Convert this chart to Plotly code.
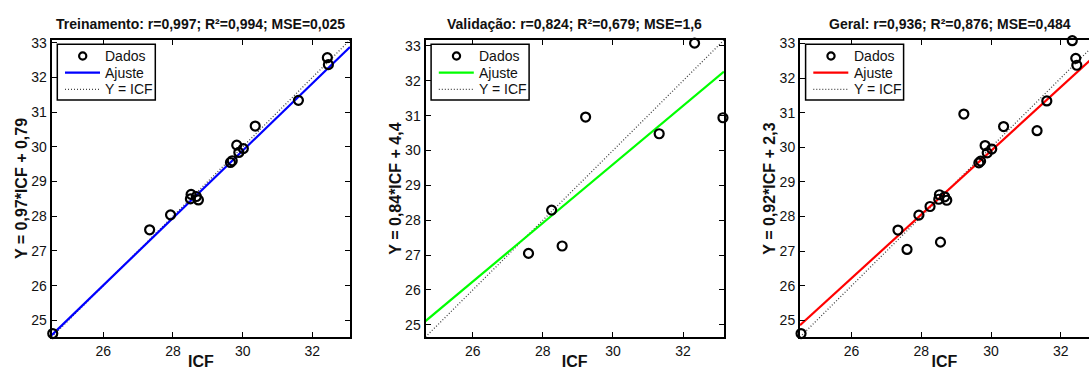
import plotly.graph_objects as go

# ---------------- data ----------------
train_icf = [24.55, 27.33, 27.93, 28.52, 28.50, 28.67, 28.73, 29.65, 29.70,
             29.83, 29.89, 30.02, 30.36, 31.60, 32.43, 32.46]
train_y = [24.62, 27.61, 28.04, 28.63, 28.50, 28.57, 28.47, 29.55, 29.60,
           30.05, 29.84, 29.95, 30.60, 31.34, 32.57, 32.37]

val_icf = [27.59, 28.25, 28.55, 29.22, 31.32, 32.33, 33.14]
val_y = [27.05, 28.29, 27.26, 30.96, 30.48, 33.08, 30.94]

all_icf = train_icf + val_icf
all_y = train_y + val_y

panel_names = ["Treinamento", "Validação", "Geral"]
r_vals = ["0,997", "0,824", "0,936"]
r2_vals = ["0,994", "0,679", "0,876"]
mse_vals = ["0,025", "1,6", "0,484"]
slopes = [0.97, 0.84, 0.92]
intercepts = [0.79, 4.4, 2.3]
slope_txt = ["0,97", "0,84", "0,92"]
intercept_txt = ["0,79", "4,4", "2,3"]
fit_colors = ["#0000FF", "#00FF00", "#FF0000"]
legend_labels = ["Dados", "Ajuste", "Y = ICF"]

xs = [train_icf, val_icf, all_icf]
ys = [train_y, val_y, all_y]

# ---------------- layout geometry ----------------
W, H = 1089, 370
TOP, BOTTOM = 40, 337
PH = BOTTOM - TOP
x_px = [(51.7, 350.0), (425.5, 724.0), (800.0, 1089.0)]
full_right = [350.0, 724.0, 1099.0]
ranges_x = [(24.52, 33.08), (24.65, 33.17), (24.52, 32.81)]
ranges_y = [(24.52, 33.08), (24.65, 33.17), (24.52, 33.10)]
line_lims = [(24.52, 33.08), (24.65, 33.17), (24.52, 33.10)]

FONT = "Liberation Sans, Arial, Helvetica, sans-serif"
DOT_COLOR = "#444444"


def py(pix):
    """pixel row -> paper y"""
    return 1 - (pix - TOP) / PH


fig = go.Figure()
layout_axes = {}
annotations = []
shapes = []

for i in range(3):
    sfx = "" if i == 0 else str(i + 1)
    xa, ya = "x" + sfx, "y" + sfx
    lo, hi = line_lims[i]

    # Y = ICF (dotted)
    fig.add_trace(go.Scatter(
        x=[lo, hi], y=[lo, hi], mode="lines", name="Y = ICF",
        line=dict(color=DOT_COLOR, width=1.3, dash="1px,2px"),
        xaxis=xa, yaxis=ya, showlegend=False, hoverinfo="skip"))
    # fit line
    fig.add_trace(go.Scatter(
        x=[lo, hi], y=[slopes[i] * lo + intercepts[i], slopes[i] * hi + intercepts[i]],
        mode="lines", name="Ajuste",
        line=dict(color=fit_colors[i], width=2.2),
        xaxis=xa, yaxis=ya, showlegend=False))
    # data
    fig.add_trace(go.Scatter(
        x=xs[i], y=ys[i], mode="markers", name="Dados",
        marker=dict(symbol="circle-open", size=9, color="black",
                    line=dict(width=2.2, color="black")),
        cliponaxis=False,
        xaxis=xa, yaxis=ya, showlegend=False))

    x0, x1 = x_px[i]
    axis_common = dict(
        showline=True, linecolor="black", linewidth=2,
        ticks="inside", ticklen=5, tickwidth=1, tickcolor="black",
        showgrid=False, zeroline=False,
        tickfont=dict(family=FONT, size=14, color="#111111"),
    )
    layout_axes["xaxis" + sfx] = dict(
        axis_common, domain=[x0 / W, x1 / W], anchor=ya,
        range=list(ranges_x[i]), tickvals=[26, 28, 30, 32],
        mirror="ticks",
        title=dict(text="<b>ICF</b>", font=dict(family=FONT, size=16, color="#111111"),
                   standoff=6),
        automargin=False,
    )
    layout_axes["yaxis" + sfx] = dict(
        axis_common, domain=[0, 1], anchor=xa,
        range=list(ranges_y[i]), tickvals=list(range(25, 34)),
        mirror="ticks" if i < 2 else False,
        title=dict(text="<b>Y = %s*ICF + %s</b>" % (slope_txt[i], intercept_txt[i]),
                   font=dict(family=FONT, size=16, color="#111111"), standoff=0),
        automargin=False,
    )

    # panel title
    annotations.append(dict(
        text="<b>%s: r=%s; R²=%s; MSE=%s</b>" % (panel_names[i], r_vals[i], r2_vals[i], mse_vals[i]),
        x=((x0 + full_right[i]) / 2) / W, y=1 + 16 / PH, xref="paper", yref="paper",
        xanchor="center", yanchor="middle", showarrow=False,
        font=dict(family=FONT, size=14, color="#111111")))

    # legend box (MATLAB style)
    L = x0 + 5.6
    shapes.append(dict(type="rect", xref="paper", yref="paper",
                       x0=L / W, x1=(L + 98) / W, y0=py(100), y1=py(44.3),
                       fillcolor="white", line=dict(color="black", width=1.5),
                       layer="above"))
    rows = [56.0, 72.7, 89.3]
    # Dados marker sample
    shapes.append(dict(type="circle", xref="paper", yref="paper",
                       xsizemode="pixel", ysizemode="pixel",
                       xanchor=(L + 25.4) / W, yanchor=py(rows[0]),
                       x0=-3.6, x1=3.6, y0=-3.6, y1=3.6,
                       line=dict(color="black", width=2.2), layer="above"))
    # Ajuste line sample
    shapes.append(dict(type="line", xref="paper", yref="paper",
                       x0=(L + 7.7) / W, x1=(L + 42.7) / W, y0=py(rows[1]), y1=py(rows[1]),
                       line=dict(color=fit_colors[i], width=2.2), layer="above"))
    # Y = ICF dotted sample
    shapes.append(dict(type="line", xref="paper", yref="paper",
                       x0=(L + 7.7) / W, x1=(L + 42.7) / W, y0=py(rows[2]), y1=py(rows[2]),
                       line=dict(color=DOT_COLOR, width=1.3, dash="1px,2px"), layer="above"))
    for lab, ry in zip(legend_labels, rows):
        annotations.append(dict(
            text=lab, x=(L + 46) / W, y=py(ry), xref="paper", yref="paper",
            xanchor="left", yanchor="middle", showarrow=False,
            font=dict(family=FONT, size=14, color="#111111")))

fig.update_layout(
    width=W, height=H,
    margin=dict(l=0, r=0, t=TOP, b=H - BOTTOM, pad=0),
    paper_bgcolor="white", plot_bgcolor="white",
    showlegend=False,
    annotations=annotations,
    shapes=shapes,
    **layout_axes,
)

# remove the browser's default 8px body margin so the figure sits at (0, 0)
fig.write_html("out.html",
               config={"displayModeBar": False},
               post_script="document.body.style.margin='0';document.body.style.overflow='hidden';")
